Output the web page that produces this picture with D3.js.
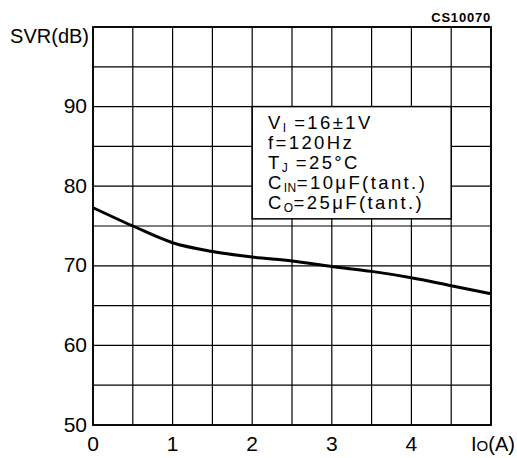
<!DOCTYPE html>
<html lang="en">
<head>
    <meta charset="UTF-8">
    <title>SVR vs Io</title>
    <script src="https://d3js.org/d3.v7.min.js"></script>
    <style>
        body { margin: 0; background: #fff; }
        text { font-family: "Liberation Sans", Arial, sans-serif; fill: #000; }
    </style>
</head>
<body>
    <div id="chart"></div>
    <script>
        // values
        var current = [0, 0.5, 1, 1.5, 2, 2.5, 3, 3.5, 4, 4.5, 5];
        var svr = [77.3, 75.0, 72.9, 71.8, 71.1, 70.6, 69.9, 69.3, 68.5, 67.5, 66.5];
        var xTickLabels = [0, 1, 2, 3, 4];
        var yTickLabels = [50, 60, 70, 80, 90];
        var xGrid = d3.range(0, 5.01, 0.5);
        var yGrid = d3.range(50, 100.1, 5);

        var width = 517, height = 458;
        var plotLeft = 93, plotRight = 491, plotTop = 27, plotBottom = 425;

        var svg = d3.select('#chart')
            .append('svg')
            .attr('width', width)
            .attr('height', height);

        var x = d3.scaleLinear().domain([0, 5]).range([plotLeft, plotRight]);
        var y = d3.scaleLinear().domain([50, 100]).range([plotBottom, plotTop]);

        // grid
        svg.append('g').selectAll('line')
            .data(xGrid)
            .enter().append('line')
            .attr('x1', d => x(d)).attr('x2', d => x(d))
            .attr('y1', plotTop).attr('y2', plotBottom)
            .attr('stroke', '#000').attr('stroke-width', 1.2);

        svg.append('g').selectAll('line')
            .data(yGrid)
            .enter().append('line')
            .attr('x1', plotLeft).attr('x2', plotRight)
            .attr('y1', d => y(d)).attr('y2', d => y(d))
            .attr('stroke', '#000').attr('stroke-width', 1.2);

        svg.append('rect')
            .attr('x', plotLeft).attr('y', plotTop)
            .attr('width', plotRight - plotLeft).attr('height', plotBottom - plotTop)
            .attr('fill', 'none').attr('stroke', '#000').attr('stroke-width', 1.8);

        // curve
        var line = d3.line()
            .x((d, i) => x(current[i]))
            .y(d => y(d))
            .curve(d3.curveMonotoneX);

        svg.append('path')
            .datum(svr)
            .attr('d', line)
            .attr('fill', 'none')
            .attr('stroke', '#000')
            .attr('stroke-width', 3);

        // condition box
        svg.append('rect')
            .attr('x', x(2)).attr('y', y(90))
            .attr('width', x(4.5) - x(2)).attr('height', y(75.9) - y(90))
            .attr('fill', '#fff').attr('stroke', '#000').attr('stroke-width', 1.5);

        var legend = svg.append('text')
            .attr('font-size', 18.5)
            .attr('letter-spacing', 2.4);

        function row(yPos, main, sub, rest) {
            legend.append('tspan').attr('x', 268).attr('y', yPos).text(main);
            if (sub) {
                legend.append('tspan').attr('font-size', 12).attr('dy', 3).attr('letter-spacing', 0.5).text(sub);
                legend.append('tspan').attr('dy', -3).text(rest);
            }
        }
        row(128.5, 'V', 'I', ' =16±1V');
        row(148.5, 'f=120Hz');
        row(168.5, 'T', 'J', ' =25°C');
        row(188.5, 'C', 'IN', '=10μF(tant.)');
        row(208.5, 'C', 'O', '=25μF(tant.)');

        // tick labels
        svg.append('g').selectAll('text')
            .data(xTickLabels)
            .enter().append('text')
            .attr('x', d => x(d)).attr('y', 450.5)
            .attr('text-anchor', 'middle')
            .attr('font-size', 21)
            .text(d => d);

        svg.append('g').selectAll('text')
            .data(yTickLabels)
            .enter().append('text')
            .attr('x', plotLeft - 6).attr('y', d => y(d) + 6.5)
            .attr('text-anchor', 'end')
            .attr('font-size', 21)
            .text(d => d);

        // axis titles
        svg.append('text')
            .attr('x', 89).attr('y', 42.7)
            .attr('text-anchor', 'end')
            .attr('font-size', 20)
            .text('SVR(dB)');

        var xt = svg.append('text')
            .attr('x', 471).attr('y', 451)
            .attr('font-size', 20);
        xt.append('tspan').text('I');
        xt.append('tspan').attr('font-size', 15).text('O');
        xt.append('tspan').text('(A)');

        svg.append('text')
            .attr('x', plotRight).attr('y', 22.3)
            .attr('text-anchor', 'end')
            .attr('font-size', 13)
            .attr('font-weight', 'bold')
            .attr('letter-spacing', 0.8)
            .text('CS10070');
    </script>
</body>
</html>
